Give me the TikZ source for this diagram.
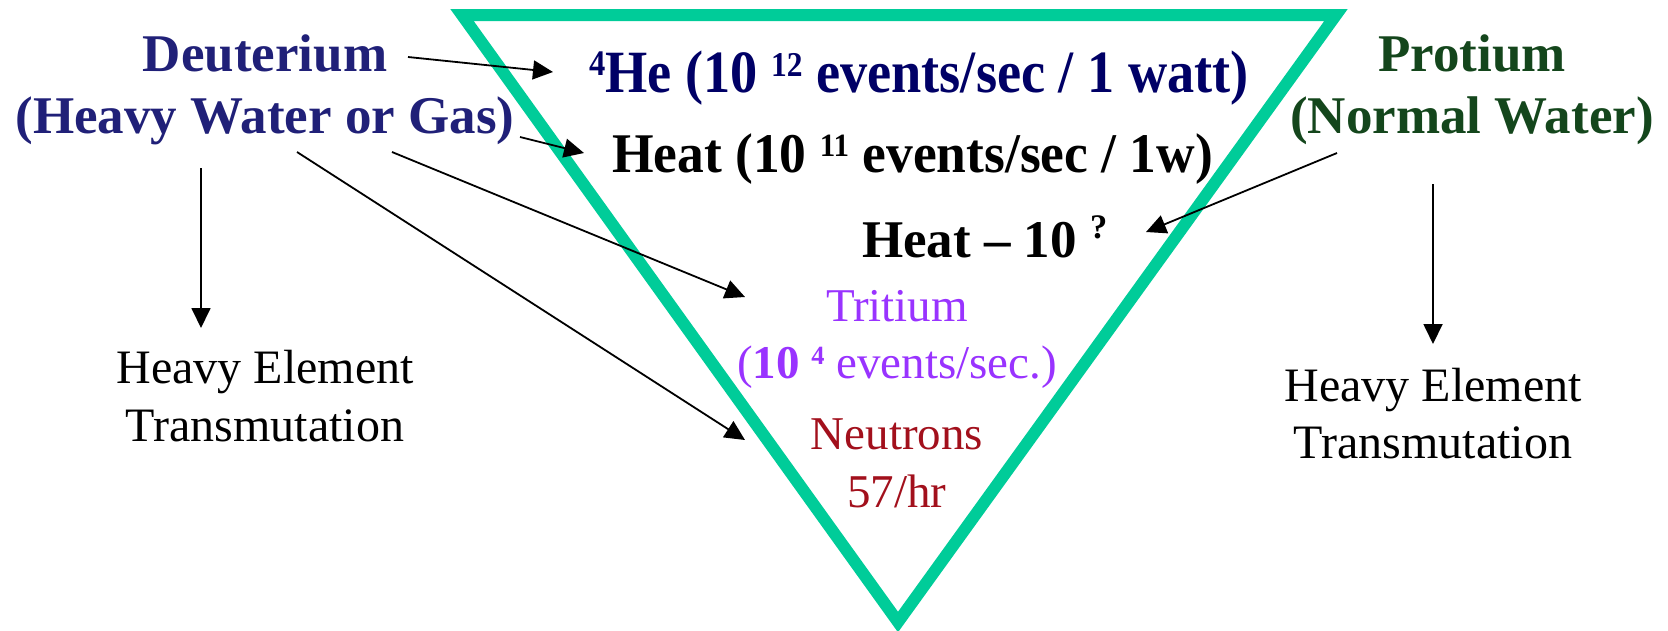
\documentclass[tikz,border=0pt]{standalone}
\usepackage{fontspec}
\usepackage{graphicx}
\setmainfont{Liberation Serif}
\usetikzlibrary{arrows.meta}
\definecolor{trigreen}{RGB}{0,204,153}
\definecolor{deutblue}{RGB}{32,32,120}
\definecolor{henavy}{RGB}{0,0,102}
\definecolor{protgreen}{RGB}{20,70,28}
\definecolor{tripurple}{RGB}{153,51,255}
\definecolor{neutred}{RGB}{162,16,28}
\newcommand\myup[3]{\raisebox{#2em}{\scalebox{#1}{#3}}}
\begin{document}
\begin{tikzpicture}[x=1pt,y=-1pt,
  txt/.style={inner sep=0pt, outer sep=0pt, anchor=base},
  bigb/.style={font=\fontsize{53}{62}\selectfont\bfseries},
  reg/.style={font=\fontsize{47}{57}\selectfont},
  hetxt/.style={font=\fontsize{48}{58}\selectfont},
  arr/.style={-{Triangle[length=20pt,width=19pt]}, line width=1.8pt, black},
  tri/.style={draw=trigreen, line width=12pt, line join=miter}]
\useasboundingbox (0,0) rectangle (1668,630);
% triangle
\draw[tri] (462,15) -- (1336,15) -- (898,622) -- cycle;
% left labels
\node[txt,bigb,text=deutblue] (d1) at (265,71) {Deuterium};
\node[txt,bigb,text=deutblue] (d2) at (265,133) {(Heavy Water or Gas)};
\node[txt,bigb,text=protgreen] (p1) at (1472,71) {Protium};
\node[txt,bigb,text=protgreen] (p2) at (1472,133) {(Normal Water)};
% inside triangle
\node[txt,anchor=base west,text=henavy] (he) at (589,92)
  {\fontsize{60}{60}\selectfont\bfseries\scalebox{0.905}[1]{\myup{0.6}{0.27}{4}He (10 \myup{0.58}{0.26}{12} events/sec / 1 watt)}};
\node[txt,anchor=base west,text=black] (heat) at (612,172)
  {\fontsize{56}{56}\selectfont\bfseries\scalebox{0.955}[1]{Heat (10 \myup{0.58}{0.27}{11} events/sec / 1w)}};
\node[txt,anchor=base west,text=black] (heatq) at (862,257)
  {\fontsize{53}{53}\selectfont\bfseries Heat \textendash{} 10 \myup{0.65}{0.35}{?}};
\node[txt,reg,text=tripurple] (tr1) at (897,321) {Tritium};
\node[txt,reg,text=tripurple] (tr2) at (897,378) {(\textbf{10 \myup{0.56}{0.28}{4}} events/sec.)};
\node[txt,reg,text=neutred] (n1) at (897,449) {Neutrons};
\node[txt,reg,text=neutred] (n2) at (897,507) {57/hr};
% transmutation labels
\node[txt,hetxt] (hl1) at (265,383) {Heavy Element};
\node[txt,hetxt] (hl2) at (265,441) {Transmutation};
\node[txt,hetxt] (hr1) at (1433,401) {Heavy Element};
\node[txt,hetxt] (hr2) at (1433,458) {Transmutation};
% arrow end points
\coordinate (a1s) at (408,57);  \coordinate (a1e) at (553,72);
\coordinate (a2s) at (520,137); \coordinate (a2e) at (584,153);
\coordinate (a3s) at (392,152); \coordinate (a3e) at (745,297);
\coordinate (a4s) at (297,152); \coordinate (a4e) at (745,440);
\coordinate (a5s) at (201,168); \coordinate (a5e) at (201,328);
\coordinate (a6s) at (1337,153); \coordinate (a6e) at (1146,232);
\coordinate (a7s) at (1433,184); \coordinate (a7e) at (1433,344);
\draw[arr] (a1s) -- (a1e);
\draw[arr] (a2s) -- (a2e);
\draw[arr] (a3s) -- (a3e);
\draw[arr] (a4s) -- (a4e);
\draw[arr] (a5s) -- (a5e);
\draw[arr] (a6s) -- (a6e);
\draw[arr] (a7s) -- (a7e);
\end{tikzpicture}
\end{document}
